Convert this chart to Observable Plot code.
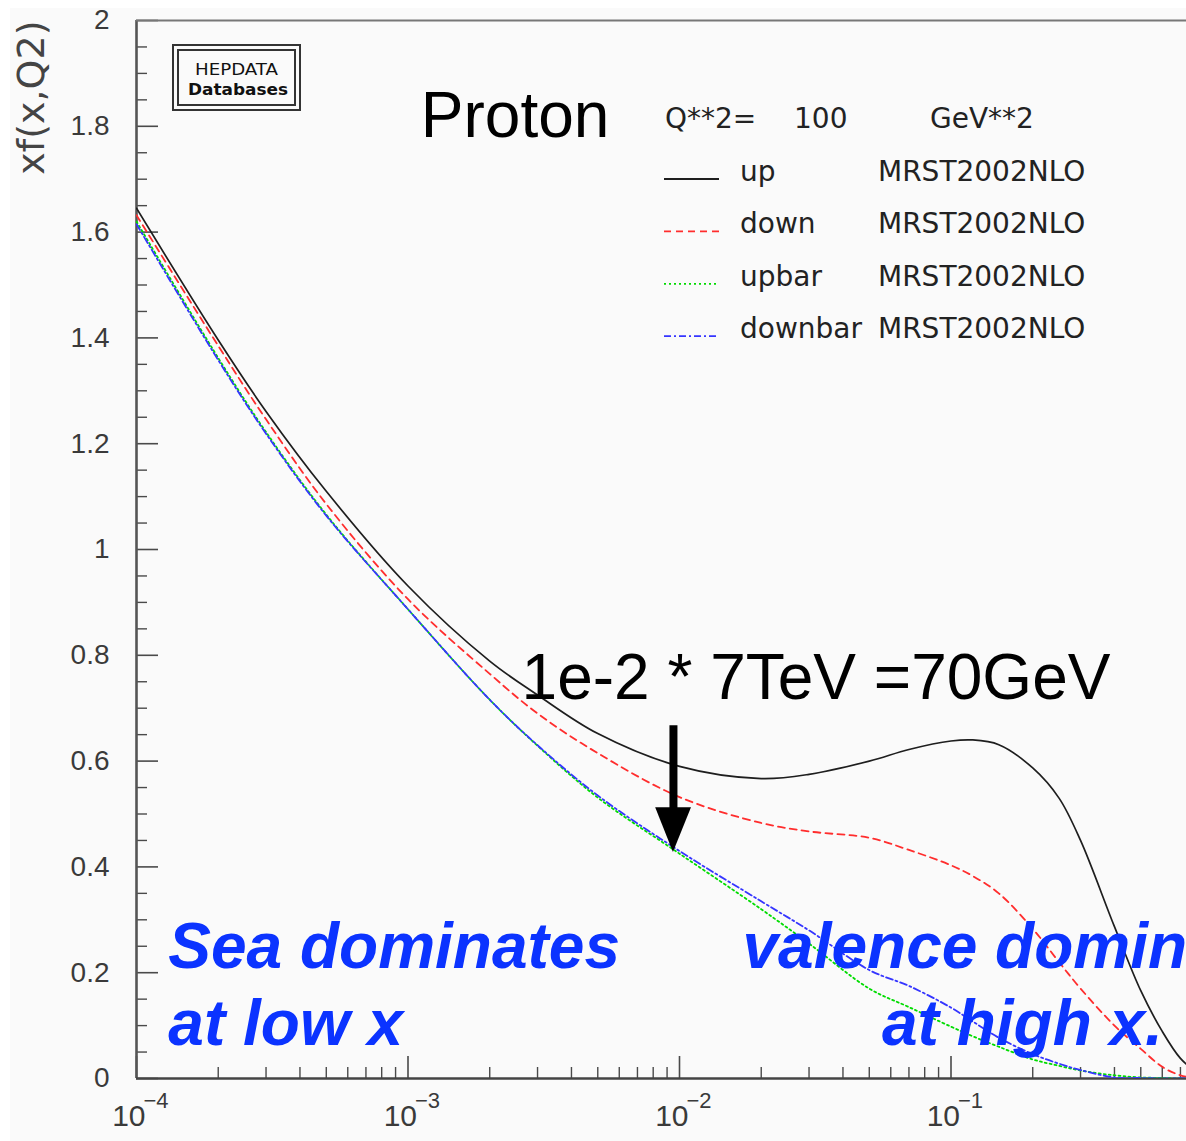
<!DOCTYPE html>
<html><head><meta charset="utf-8">
<script src="https://cdn.jsdelivr.net/npm/d3@7"></script>
<script src="https://cdn.jsdelivr.net/npm/@observablehq/plot@0.6"></script>
<style>
html,body{margin:0;padding:0;overflow:hidden;background:#fff;}
#wrap{position:relative;width:1186px;height:1141px;overflow:hidden;}
#panel{position:absolute;left:10px;top:8px;right:0;bottom:0;background:#fafafa;}
#chart{position:absolute;left:0;top:0;}
#overlay{position:absolute;left:0;top:0;pointer-events:none;}
</style></head><body>
<div id="wrap"><div id="panel"></div><div id="chart"></div><svg id="overlay" width="1186" height="1141"></svg></div>
<script>
// ---- data ----
const xValues       = [1e-4, 2e-4, 3e-4, 5e-4, 1e-3, 2e-3, 3e-3, 5e-3, 0.01, 0.02, 0.03, 0.05, 0.07, 0.1, 0.12, 0.15, 0.2, 0.25, 0.3, 0.4, 0.5, 0.6, 0.7, 0.8];
const upValues      = [1.645, 1.396, 1.261, 1.110, 0.931, 0.789, 0.725, 0.652, 0.590, 0.567, 0.575, 0.600, 0.622, 0.638, 0.640, 0.631, 0.587, 0.530, 0.450, 0.287, 0.166, 0.089, 0.038, 0.012];
const downValues    = [1.632, 1.385, 1.246, 1.086, 0.906, 0.765, 0.690, 0.615, 0.532, 0.483, 0.467, 0.455, 0.432, 0.403, 0.383, 0.350, 0.283, 0.220, 0.170, 0.100, 0.056, 0.022, 0.006, 0.0];
const upbarValues   = [1.620, 1.362, 1.222, 1.066, 0.887, 0.716, 0.629, 0.531, 0.425, 0.320, 0.255, 0.170, 0.135, 0.098, 0.080, 0.060, 0.036, 0.024, 0.015, 0.006, 0.002, 0.001, 0.0, 0.0];
const downbarValues = [1.615, 1.358, 1.219, 1.064, 0.887, 0.716, 0.630, 0.535, 0.430, 0.335, 0.280, 0.205, 0.175, 0.134, 0.108, 0.077, 0.046, 0.028, 0.016, 0.002, 0.001, 0.0, 0.0, 0.0];

const seriesNames = ["up", "down", "upbar", "downbar"];
const seriesPdf = ["MRST2002NLO", "MRST2002NLO", "MRST2002NLO", "MRST2002NLO"];
const seriesColors = ["#1e1e1e", "#ff2d2d", "#00dc00", "#3535ff"];
const seriesDash = [null, "7,5", "2,3", "7,3,2,3"];
const seriesValues = [upValues, downValues, upbarValues, downbarValues];

const yTicks = [0, 0.2, 0.4, 0.6, 0.8, 1, 1.2, 1.4, 1.6, 1.8, 2];
const yMinorTicks = d3.range(0, 41).filter(i => i % 4 !== 0).map(i => +(i * 0.05).toFixed(2));
const xTicks = [1e-4, 1e-3, 1e-2, 1e-1];
const xExponents = ["\u22124", "\u22123", "\u22122", "\u22121"];
const xMax = Math.pow(10, -4 + 1050 / 271.5);
const xMinorTicks = [-4, -3, -2, -1].flatMap(e => [2,3,4,5,6,7,8,9].map(k => k * Math.pow(10, e))).filter(v => v <= xMax);

const legendHeader = ["Q**2=", "100", "GeV**2"];

// ---- table ----
const table = seriesNames.flatMap((s, i) => xValues.map((x, j) => ({series: s, x, y: seriesValues[i][j]})));

const W = 1186, H = 1141, mL = 136, mT = 20, mB = 63, mR = 0;
const plotW = W - mL - mR, plotH = H - mT - mB;
const axisColor = "#4a4a4a";
const sans = "Liberation Sans, Arial, Helvetica, sans-serif";
const blue = "#0b33ff";

const chart = Plot.plot({
  width: W, height: H,
  marginLeft: mL, marginRight: mR, marginTop: mT, marginBottom: mB,
  style: {background: "transparent", fontFamily: sans},
  x: {type: "log", domain: [1e-4, xMax], axis: null},
  y: {domain: [0, 2]},
  marks: [
    // inward ticks (ROOT style)
    Plot.ruleY(yTicks, {y: d => d, insetRight: plotW - 22, stroke: axisColor, strokeWidth: 1.6}),
    Plot.ruleY(yMinorTicks, {y: d => d, insetRight: plotW - 11, stroke: axisColor, strokeWidth: 1.4}),
    Plot.ruleX(xTicks, {x: d => d, insetTop: plotH - 22, stroke: axisColor, strokeWidth: 1.6}),
    Plot.ruleX(xMinorTicks, {x: d => d, insetTop: plotH - 11, stroke: axisColor, strokeWidth: 1.4}),
    // frame lines
    Plot.ruleX([1e-4], {stroke: "#555", strokeWidth: 2.6}),
    Plot.ruleY([0], {stroke: "#444", strokeWidth: 2.6}),
    Plot.ruleY([2], {stroke: "#777", strokeWidth: 2.2}),
    // y tick labels
    Plot.axisY({ticks: yTicks, tickSize: 0, tickPadding: 27, tickFormat: d => d3.format("~g")(d), fontSize: 28, fill: "#3a3a3a", label: null}),
    // x tick labels: 10 with raised exponent
    Plot.text(xTicks, {x: d => d, frameAnchor: "bottom", text: () => "10", textAnchor: "end", lineAnchor: "bottom", dx: 9, dy: 47, fontSize: 30, fill: "#3a3a3a"}),
    Plot.text(xTicks, {x: d => d, frameAnchor: "bottom", text: (d, i) => xExponents[i], textAnchor: "start", lineAnchor: "bottom", dx: 7, dy: 29, fontSize: 22, fill: "#3a3a3a"}),
    Plot.text(["xf(x,Q2)"], {frameAnchor: "top-left", dx: -93, rotate: -90, textAnchor: "end", lineAnchor: "bottom", fontSize: 38, fill: "#444", fontFamily: "DejaVu Sans, sans-serif"}),
    // curves
    ...seriesNames.map((s, i) => Plot.line(table.filter(d => d.series === s), {
      x: "x", y: "y", stroke: seriesColors[i], strokeWidth: i === 0 ? 1.7 : 1.8,
      strokeDasharray: seriesDash[i], curve: "catmull-rom", clip: true
    })),
    // annotations
    Plot.text(["Proton"], {x: 0.001115, y: 1.779, textAnchor: "start", lineAnchor: "bottom", fontSize: 64, fill: "#000", fontFamily: sans}),
    Plot.text(["1e-2 * 7TeV =70GeV"], {x: 0.00262, y: 0.718, textAnchor: "start", lineAnchor: "bottom", fontSize: 64, fill: "#000", fontFamily: sans}),
    Plot.ruleX([0.0095], {y1: 0.50, y2: 0.667, stroke: "#000", strokeWidth: 8}),
    Plot.areaX([{y: 0.512, a: 0.00817, b: 0.01107}, {y: 0.427, a: 0.0095, b: 0.0095}], {y: "y", x1: "a", x2: "b", fill: "#000"}),
    Plot.text(["Sea dominates", "at low x"], {x: 1.31e-4, y: [0.208, 0.0624], textAnchor: "start", lineAnchor: "bottom", fontSize: 64, fontWeight: "bold", fontStyle: "italic", fill: blue, fontFamily: sans}),
    Plot.text(["valence dominates"], {x: 0.01706, y: 0.208, textAnchor: "start", lineAnchor: "bottom", fontSize: 64, fontWeight: "bold", fontStyle: "italic", fill: blue, fontFamily: sans}),
    Plot.text(["at high x."], {x: 0.0557, y: 0.0624, textAnchor: "start", lineAnchor: "bottom", fontSize: 64, fontWeight: "bold", fontStyle: "italic", fill: blue, fontFamily: sans})
  ]
});
document.getElementById("chart").appendChild(chart);

// ---- overlay: HEPDATA stamp and ROOT-style legend ----
const ov = d3.select("#overlay");
const root = "DejaVu Sans, sans-serif";
ov.append("rect").attr("x", 173).attr("y", 45).attr("width", 127).attr("height", 65).attr("fill", "none").attr("stroke", "#333").attr("stroke-width", 2);
ov.append("rect").attr("x", 178).attr("y", 50).attr("width", 117).attr("height", 55).attr("fill", "none").attr("stroke", "#333").attr("stroke-width", 2);
ov.append("text").attr("x", 236.5).attr("y", 75).attr("text-anchor", "middle").attr("font-family", root).attr("font-size", 16)
  .attr("textLength", 83).attr("lengthAdjust", "spacingAndGlyphs").attr("fill", "#111").text("HEPDATA");
ov.append("text").attr("x", 238).attr("y", 95).attr("text-anchor", "middle").attr("font-family", root).attr("font-size", 16)
  .attr("textLength", 100).attr("lengthAdjust", "spacingAndGlyphs").attr("fill", "#111").attr("font-weight", "bold").text("Databases");

const hx = [665, 794, 930];
legendHeader.forEach((t, i) => ov.append("text").attr("x", hx[i]).attr("y", 128).attr("font-family", root).attr("font-size", 28).attr("fill", "#222").text(t));
seriesNames.forEach((s, i) => {
  const yb = 181 + i * 52.4;
  ov.append("line").attr("x1", 664).attr("x2", 719).attr("y1", yb - 2).attr("y2", yb - 2)
    .attr("stroke", seriesColors[i]).attr("stroke-width", 1.8).attr("stroke-dasharray", seriesDash[i]);
  ov.append("text").attr("x", 740).attr("y", yb).attr("font-family", root).attr("font-size", 28).attr("fill", "#222").text(s);
  ov.append("text").attr("x", 878).attr("y", yb).attr("font-family", root).attr("font-size", 28).attr("fill", "#222").text(seriesPdf[i]);
});
</script>
</body></html>
